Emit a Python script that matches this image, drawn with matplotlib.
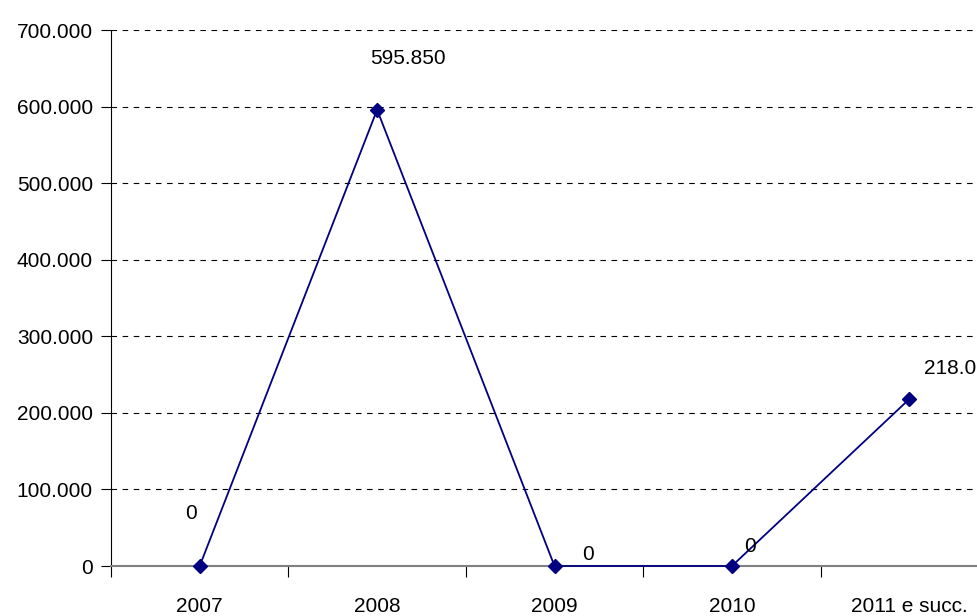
import matplotlib
matplotlib.use("Agg")
import matplotlib.pyplot as plt
import numpy as np

# data
years = ["2007", "2008", "2009", "2010", "2011 e succ."]
values = [0, 595850, 0, 0, 218000]
labels = ["0", "595.850", "0", "0", "218.000"]
yticks = [0, 100000, 200000, 300000, 400000, 500000, 600000, 700000]

# label offsets in points (Excel places them a bit oddly)
offsets = [(-6, 38), (22, 37), (24, 8), (13, 14), (38, 22)]


def it_fmt(v, pos=None):
    return f"{int(v):,}".replace(",", ".")


plt.rcParams["font.family"] = ["Liberation Sans", "DejaVu Sans"]

fig = plt.figure(figsize=(9.77, 6.16), dpi=100)
ax = fig.add_axes([111 / 977, 50 / 616, 887 / 977, 536 / 616])

x = np.arange(len(years))
ax.plot(x, values, color="#000080", linewidth=1.3, marker="D", markersize=7,
        markerfacecolor="#000080", markeredgecolor="#000080", clip_on=False, zorder=3)

for xi, v, lab, off in zip(x, values, labels, offsets):
    ax.annotate(lab, (xi, v), xytext=off, textcoords="offset points",
                ha="center", va="center", fontsize=15, color="black",
                annotation_clip=False)

ax.set_xlim(-0.5, len(years) - 0.5)
ax.set_ylim(0, 700000)

# category boundaries as ticks, labels at the centres
ax.set_xticks(np.arange(-0.5, len(years), 1.0))
ax.set_xticklabels([])
ax.set_xticks(x, minor=True)
ax.set_xticklabels(years, minor=True, fontsize=15)
ax.tick_params(axis="x", which="major", length=8, direction="out", color="black")
ax.tick_params(axis="x", which="minor", length=0, pad=22)

ax.set_yticks(yticks)
ax.yaxis.set_major_formatter(plt.FuncFormatter(it_fmt))
ax.tick_params(axis="y", length=7, direction="out", labelsize=15, pad=6)

ax.yaxis.grid(True, linestyle=(0, (5, 5)), color="black", linewidth=0.8)
ax.set_axisbelow(True)

ax.spines["top"].set_visible(False)
ax.spines["right"].set_visible(False)
ax.spines["left"].set_color("black")
ax.spines["bottom"].set_color("#808080")
ax.spines["bottom"].set_linewidth(1.5)

fig.savefig("out.png", dpi=100)
